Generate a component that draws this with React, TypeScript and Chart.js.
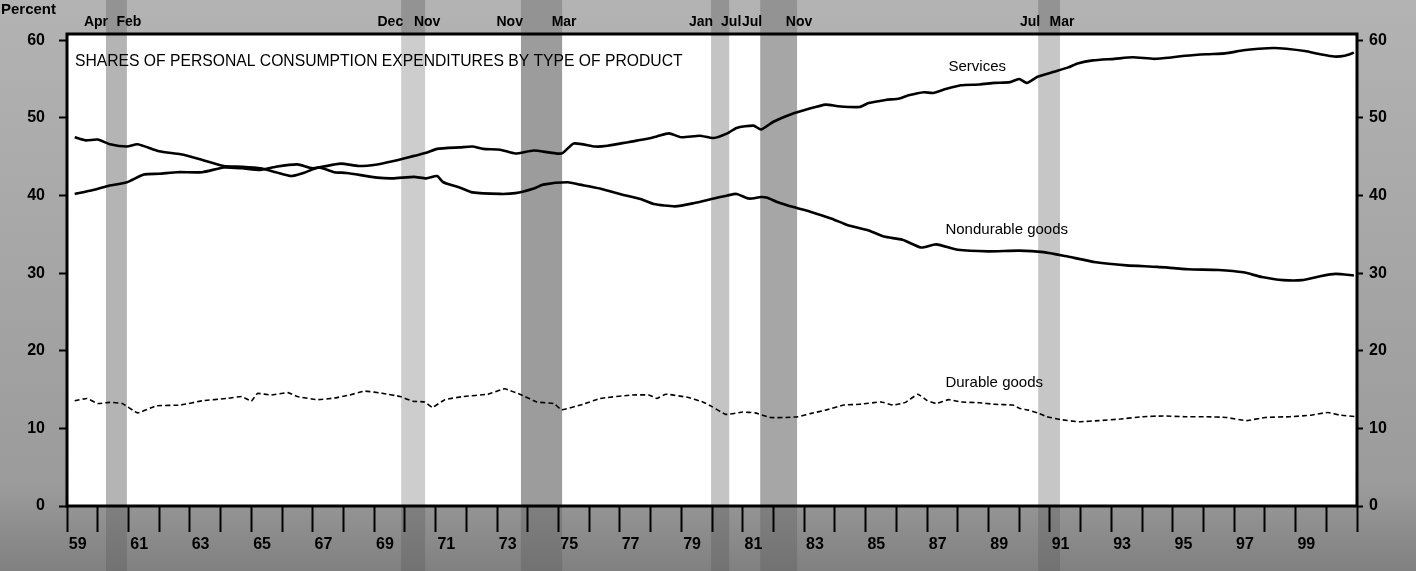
import { useEffect, useRef } from 'react';
import { Chart, registerables } from 'chart.js';

Chart.register(...registerables);

// ---------- data ----------
const servicesYears = [
  1959.25, 1959.85, 1960.3, 1960.95, 1961.5, 1962.0, 1962.6, 1963.4, 1964.1, 1964.7,
  1965.3, 1965.8, 1966.5, 1967.0, 1967.9, 1968.5, 1969.1, 1969.6, 1970.3, 1970.7,
  1971.05, 1971.8, 1972.2, 1972.55, 1973.1, 1973.6, 1974.2, 1975.1, 1975.5, 1976.2,
  1976.6, 1977.3, 1977.9, 1978.2, 1978.6, 1979.0, 1979.6, 1980.05, 1980.5, 1980.8,
  1981.35, 1981.6, 1982.0, 1982.6, 1983.1, 1983.7, 1984.1, 1984.8, 1985.1, 1985.65,
  1986.1, 1986.4, 1986.9, 1987.2, 1987.6, 1988.1, 1988.7, 1989.2, 1989.7, 1990.0,
  1990.25, 1990.6, 1991.1, 1991.6, 1991.9, 1992.4, 1993.1, 1993.7, 1994.4, 1995.0,
  1995.4, 1996.1, 1996.7, 1997.3, 1997.8, 1998.3, 1998.7, 1999.3, 1999.8, 2000.25,
  2000.6, 2000.9,
];
const servicesValues = [
  40.2, 40.7, 41.2, 41.7, 42.7, 42.8, 43.0, 43.0, 43.6, 43.5,
  43.3, 43.7, 44.0, 43.5, 44.1, 43.8, 44.0, 44.4, 45.1, 45.5,
  46.0, 46.2, 46.3, 46.0, 45.9, 45.4, 45.8, 45.4, 46.7, 46.3,
  46.4, 46.9, 47.3, 47.6, 48.0, 47.5, 47.7, 47.4, 48.0, 48.7,
  49.0, 48.5, 49.5, 50.5, 51.1, 51.7, 51.5, 51.4, 51.9, 52.3,
  52.5, 52.9, 53.3, 53.2, 53.7, 54.2, 54.3, 54.5, 54.6, 55.0,
  54.5, 55.3, 55.9, 56.5, 57.0, 57.4, 57.6, 57.8, 57.6, 57.8,
  58.0, 58.2, 58.3, 58.7, 58.9, 59.0, 58.9, 58.6, 58.2, 57.9,
  58.0, 58.4,
];

const nondurableYears = [
  1959.25, 1959.6, 1960.0, 1960.4, 1960.95, 1961.3, 1962.0, 1962.7, 1963.3, 1964.1,
  1964.7, 1965.3, 1965.8, 1966.3, 1966.7, 1967.2, 1967.7, 1968.1, 1969.1, 1969.6,
  1970.3, 1970.7, 1971.05, 1971.25, 1971.8, 1972.2, 1973.1, 1973.6, 1974.2, 1974.5,
  1975.3, 1975.7, 1976.35, 1977.0, 1977.7, 1978.1, 1978.8, 1979.4, 1980.05, 1980.5,
  1980.8, 1981.2, 1981.6, 1981.8, 1982.1, 1982.65, 1983.2, 1983.9, 1984.4, 1985.1,
  1985.6, 1986.2, 1986.8, 1987.3, 1988.0, 1989.0, 1990.0, 1990.8, 1991.5, 1992.5,
  1993.5, 1994.5, 1995.5, 1996.5, 1997.3, 1997.9, 1998.6, 1999.2, 1999.8, 2000.3,
  2000.9,
];
const nondurableValues = [
  47.5, 47.1, 47.2, 46.6, 46.3, 46.6, 45.7, 45.3, 44.7, 43.8,
  43.7, 43.5, 43.0, 42.5, 42.9, 43.6, 43.0, 42.9, 42.3, 42.2,
  42.4, 42.2, 42.5, 41.7, 41.0, 40.4, 40.2, 40.3, 40.9, 41.4,
  41.7, 41.4, 40.9, 40.2, 39.5, 38.9, 38.6, 39.0, 39.6, 40.0,
  40.2, 39.6, 39.8, 39.7, 39.2, 38.5, 37.9, 37.0, 36.2, 35.5,
  34.7, 34.3, 33.3, 33.7, 33.0, 32.8, 32.9, 32.7, 32.2, 31.4,
  31.0, 30.8, 30.5, 30.4, 30.1, 29.5, 29.1, 29.1, 29.6, 29.9,
  29.7,
];

const durableYears = [
  1959.25, 1959.65, 1960.0, 1960.4, 1960.8, 1961.3, 1961.9, 1962.7, 1963.4, 1964.2,
  1964.7, 1965.0, 1965.2, 1965.65, 1966.2, 1966.5, 1967.15, 1967.7, 1968.2, 1968.7,
  1969.3, 1969.85, 1970.25, 1970.65, 1970.9, 1971.3, 1971.9, 1972.7, 1973.25, 1973.8,
  1974.3, 1974.85, 1975.1, 1975.8, 1976.35, 1977.4, 1977.95, 1978.2, 1978.5, 1979.2,
  1979.7, 1980.0, 1980.45, 1981.0, 1981.4, 1981.9, 1982.4, 1982.8, 1983.2, 1983.7,
  1984.3, 1984.8, 1985.5, 1985.9, 1986.3, 1986.7, 1987.0, 1987.3, 1987.7, 1988.1,
  1988.7, 1989.2, 1989.8, 1990.0, 1990.3, 1990.6, 1990.9, 1991.4, 1991.95, 1992.6,
  1993.3, 1994.0, 1994.7, 1995.4, 1996.1, 1996.75, 1997.4, 1998.0, 1998.8, 1999.5,
  2000.05, 2000.45, 2001.0,
];
const durableValues = [
  13.55, 13.85, 13.2, 13.35, 13.2, 12.0, 12.9, 13.0, 13.55, 13.85,
  14.1, 13.5, 14.5, 14.3, 14.6, 14.1, 13.7, 13.9, 14.3, 14.8,
  14.5, 14.1, 13.5, 13.4, 12.7, 13.7, 14.1, 14.4, 15.1, 14.3,
  13.4, 13.2, 12.4, 13.1, 13.85, 14.3, 14.3, 13.85, 14.4, 14.0,
  13.4, 12.8, 11.8, 12.1, 12.0, 11.4, 11.4, 11.5, 11.9, 12.35,
  13.0, 13.1, 13.4, 13.0, 13.35, 14.4, 13.6, 13.2, 13.7, 13.4,
  13.3, 13.1, 13.0, 12.6, 12.35, 12.0, 11.5, 11.1, 10.85, 11.0,
  11.2, 11.5, 11.6, 11.5, 11.5, 11.4, 11.0, 11.4, 11.5, 11.7,
  12.05, 11.7, 11.5,
];

// recessions (decimal years) and their peak/trough month labels
const recessionStart = [1960.27, 1969.88, 1973.78, 1979.97, 1981.57, 1990.62];
const recessionEnd = [1960.95, 1970.66, 1975.12, 1980.56, 1982.77, 1991.33];
const recessionPeakLabels = ['Apr', 'Dec', 'Nov', 'Jan', 'Jul', 'Jul'];
const recessionTroughLabels = ['Feb', 'Nov', 'Mar', 'Jul', 'Nov', 'Mar'];

// axes
const xMin = 1959;
const xMax = 2001;
const xLabelYears = [1959, 1961, 1963, 1965, 1967, 1969, 1971, 1973, 1975, 1977, 1979, 1981, 1983, 1985, 1987, 1989, 1991, 1993, 1995, 1997, 1999];
const xTickLabels = ['59', '61', '63', '65', '67', '69', '71', '73', '75', '77', '79', '81', '83', '85', '87', '89', '91', '93', '95', '97', '99'];
const yTickValues = [0, 10, 20, 30, 40, 50, 60];
const yMax = 60.8;

const titleText = 'SHARES OF PERSONAL CONSUMPTION EXPENDITURES BY TYPE OF PRODUCT';
const seriesNames = ['Services', 'Nondurable goods', 'Durable goods'];
const seriesLabelAnchors = [
  [1987.7, 56.6],
  [1987.6, 35.6],
  [1987.6, 15.85],
];

// ---------- styling ----------
const FONT = "'Liberation Sans', Arial, Helvetica, sans-serif";
const bandShades = ['#b4b4b4', '#cdcdcd', '#9c9c9c', '#c4c4c4', '#a6a6a6', '#c6c6c6'];
const LABEL_OFFSET = 0.35;

const toPoints = (xs: number[], ys: number[]) => xs.map((x, i) => ({ x, y: ys[i] }));

const decorPlugin = {
  id: 'decor',
  beforeDraw(chart: any) {
    const { ctx, chartArea: a, width, height } = chart;
    const xs = chart.scales.x;
    ctx.save();
    const g = ctx.createLinearGradient(0, 0, 0, height);
    g.addColorStop(0, '#b3b3b3');
    g.addColorStop(0.85, '#9b9b9b');
    g.addColorStop(1, '#808080');
    ctx.fillStyle = g;
    ctx.fillRect(0, 0, width, height);
    ctx.fillStyle = '#ffffff';
    ctx.fillRect(a.left, a.top, a.right - a.left, a.bottom - a.top);
    for (let i = 0; i < recessionStart.length; i++) {
      const x1 = xs.getPixelForValue(recessionStart[i]);
      const x2 = xs.getPixelForValue(recessionEnd[i]);
      ctx.fillStyle = bandShades[i % bandShades.length];
      ctx.fillRect(x1, a.top, x2 - x1, a.bottom - a.top);
      ctx.fillStyle = 'rgba(90,90,90,0.35)';
      ctx.fillRect(x1, 0, x2 - x1, a.top);
      ctx.fillRect(x1, a.bottom, x2 - x1, height - a.bottom);
    }
    ctx.restore();
  },
  afterDraw(chart: any) {
    const { ctx, chartArea: a } = chart;
    const xs = chart.scales.x;
    const ys = chart.scales.y;
    ctx.save();
    // frame
    ctx.strokeStyle = '#000';
    ctx.lineWidth = 3;
    ctx.strokeRect(a.left, a.top, a.right - a.left, a.bottom - a.top);

    ctx.fillStyle = '#000';
    // title
    ctx.font = `15.7px ${FONT}`;
    ctx.textAlign = 'left';
    ctx.textBaseline = 'middle';
    ctx.fillText(titleText, a.left + 8, a.top + 28);

    // series labels
    ctx.font = `15px ${FONT}`;
    seriesNames.forEach((name, i) => {
      const [vx, vy] = seriesLabelAnchors[i];
      ctx.fillText(name, xs.getPixelForValue(vx), ys.getPixelForValue(vy));
    });

    // "Percent"
    ctx.font = `bold 15px ${FONT}`;
    ctx.fillText('Percent', 1, 10);

    // recession month labels
    ctx.font = `bold 14px ${FONT}`;
    for (let i = 0; i < recessionStart.length; i++) {
      const x1 = xs.getPixelForValue(recessionStart[i]);
      const x2 = xs.getPixelForValue(recessionEnd[i]);
      ctx.textAlign = 'right';
      ctx.fillText(recessionPeakLabels[i], x1 + 2, 22);
      ctx.textAlign = 'center';
      ctx.fillText(recessionTroughLabels[i], x2 + 2, 22);
    }
    ctx.restore();
  },
};

export default function App() {
  const canvasRef = useRef<HTMLCanvasElement | null>(null);

  useEffect(() => {
    document.body.style.margin = '0';
    const canvas = canvasRef.current;
    if (!canvas) return;

    const labelMap = new Map<number, string>();
    xLabelYears.forEach((yr, i) => labelMap.set(yr + LABEL_OFFSET, xTickLabels[i]));

    const chart = new Chart(canvas, {
      type: 'line',
      data: {
        datasets: [
          {
            label: seriesNames[0],
            data: toPoints(servicesYears, servicesValues),
            borderColor: '#000',
            borderWidth: 2.6,
            pointRadius: 0,
            tension: 0.2,
            fill: false,
          },
          {
            label: seriesNames[1],
            data: toPoints(nondurableYears, nondurableValues),
            borderColor: '#000',
            borderWidth: 2.6,
            pointRadius: 0,
            tension: 0.2,
            fill: false,
          },
          {
            label: seriesNames[2],
            data: toPoints(durableYears, durableValues),
            borderColor: '#000',
            borderWidth: 1.6,
            borderDash: [5, 3],
            pointRadius: 0,
            tension: 0.1,
            fill: false,
          },
        ],
      },
      options: {
        animation: false,
        responsive: false,
        maintainAspectRatio: false,
        devicePixelRatio: 1,
        layout: { padding: { top: 34, left: 0, right: 0, bottom: 0 } },
        plugins: {
          legend: { display: false },
          title: { display: false },
          tooltip: { enabled: false },
        },
        scales: {
          x: {
            type: 'linear',
            min: xMin,
            max: xMax,
            afterBuildTicks: (scale: any) => {
              const t: { value: number }[] = [];
              for (let yr = xMin; yr <= xMax; yr++) t.push({ value: yr });
              xLabelYears.forEach((yr) => t.push({ value: yr + LABEL_OFFSET }));
              t.sort((p, q) => p.value - q.value);
              scale.ticks = t;
            },
            afterFit: (scale: any) => {
              scale.height = 65;
            },
            border: { display: false },
            grid: {
              drawOnChartArea: false,
              drawTicks: true,
              tickLength: 26,
              tickWidth: 2,
              tickColor: (ctx: any) =>
                ctx.tick && labelMap.has(ctx.tick.value) ? 'rgba(0,0,0,0)' : '#000',
            },
            ticks: {
              autoSkip: false,
              maxRotation: 0,
              minRotation: 0,
              padding: 3,
              color: '#000',
              font: { family: FONT, size: 16, weight: 'bold' },
              callback: (value: any) => labelMap.get(Number(value)) ?? '',
            },
          },
          y: {
            type: 'linear',
            position: 'left',
            min: 0,
            max: yMax,
            afterBuildTicks: (scale: any) => {
              scale.ticks = yTickValues.map((v) => ({ value: v }));
            },
            afterFit: (scale: any) => {
              scale.width = 67;
            },
            border: { display: false },
            grid: {
              drawOnChartArea: false,
              tickLength: 8,
              tickWidth: 2,
              tickColor: '#000',
            },
            ticks: {
              padding: 14,
              color: '#000',
              font: { family: FONT, size: 16, weight: 'bold' },
              callback: (v: any) => String(v),
            },
          },
          y2: {
            type: 'linear',
            position: 'right',
            min: 0,
            max: yMax,
            afterBuildTicks: (scale: any) => {
              scale.ticks = yTickValues.map((v) => ({ value: v }));
            },
            afterFit: (scale: any) => {
              scale.width = 59;
            },
            border: { display: false },
            grid: {
              drawOnChartArea: false,
              tickLength: 6,
              tickWidth: 2,
              tickColor: '#000',
            },
            ticks: {
              padding: 6,
              color: '#000',
              font: { family: FONT, size: 16, weight: 'bold' },
              callback: (v: any) => String(v),
            },
          },
        },
      },
      plugins: [decorPlugin],
    } as any);

    return () => chart.destroy();
  }, []);

  return (
    <div style={{ width: 1416, height: 571, position: 'relative' }}>
      <canvas ref={canvasRef} width={1416} height={571} style={{ display: 'block' }} />
    </div>
  );
}
